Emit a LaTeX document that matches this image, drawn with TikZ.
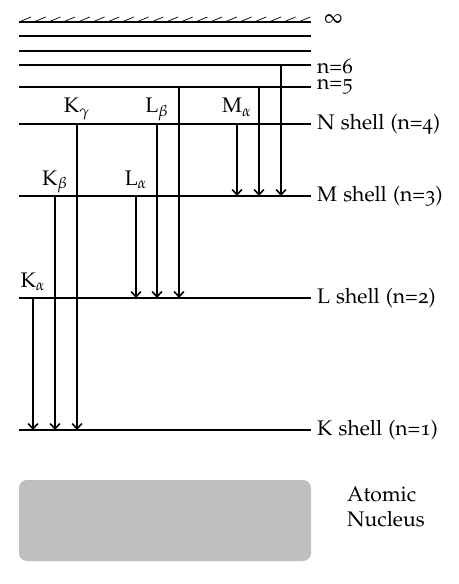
\documentclass[tikz,border=0pt]{standalone}
\usepackage[T1]{fontenc}
\usepackage[osf]{mathpazo}
\usepackage{tikz}
\usetikzlibrary{arrows.meta,calc}
\definecolor{NucleusGray}{RGB}{191,191,191}

\begin{document}
\begin{tikzpicture}[x=0.02cm,y=-0.02cm,
  level/.style={line width=0.7pt},
  xray/.style={line width=0.9pt,-{Straight Barb[length=3pt,width=5.5pt]}},
  lvlab/.style={anchor=west,inner ysep=1pt,font=\fontsize{12}{14}\selectfont},
  tlab/.style={anchor=base,font=\fontsize{12}{14}\selectfont},
]
\useasboundingbox (0,0) rectangle (458,584);
% energy levels
\coordinate (lvInf) at (19,22);
\coordinate (lvHiA) at (19,36);
\coordinate (lvHiB) at (19,51);
\coordinate (lvSix) at (19,65);
\coordinate (lvFive) at (19,87);
\coordinate (lvN) at (19,124);
\coordinate (lvM) at (19,196);
\coordinate (lvL) at (19,298);
\coordinate (lvK) at (19,430);
\foreach \lv in {lvInf,lvHiA,lvHiB,lvSix,lvFive,lvN,lvM,lvL,lvK}
  \draw[level] (\lv) -- ++(292,0);
\foreach \i in {0,...,19}
  \draw[line width=0.4pt] ($(lvInf)+(\i*14.7,0)$) -- ++(12,-5);
\node[lvlab] (inf) at (318,20) {$\infty$};
\node[lvlab] (six) at (311,66) {n=6};
\node[lvlab] (five) at (311,87) {n=5};
\node[lvlab] (nsh) at (311,124) {N shell (n=4)};
\node[lvlab] (msh) at (311,196) {M shell (n=3)};
\node[lvlab] (lsh) at (311,298) {L shell (n=2)};
\node[lvlab] (ksh) at (311,430) {K shell (n=1)};
% transitions
\foreach \x/\from/\to in {33/lvL/lvK,55/lvM/lvK,77/lvN/lvK,
    136/lvM/lvL,157/lvN/lvL,179/lvFive/lvL,
    237/lvN/lvM,259/lvFive/lvM,281/lvSix/lvM}
  \draw[xray] (\x,0 |- \from) -- (\x,0 |- \to);
\node[tlab] (ka) at (33,287) {K$_\alpha$};
\node[tlab] (kb) at (55,185) {K$_\beta$};
\node[tlab] (kg) at (77,113) {K$_\gamma$};
\node[tlab] (la) at (136,185) {L$_\alpha$};
\node[tlab] (lb) at (157,113) {L$_\beta$};
\node[tlab] (ma) at (237,113) {M$_\alpha$};
% nucleus
\draw[fill=NucleusGray,draw=none,rounded corners=4.5pt] (19,480) rectangle (311,561);
\node[anchor=north west,align=left,font=\fontsize{12}{14}\selectfont] (nuc) at (341,481)
  {Atomic\\Nucleus};
\end{tikzpicture}
\end{document}
